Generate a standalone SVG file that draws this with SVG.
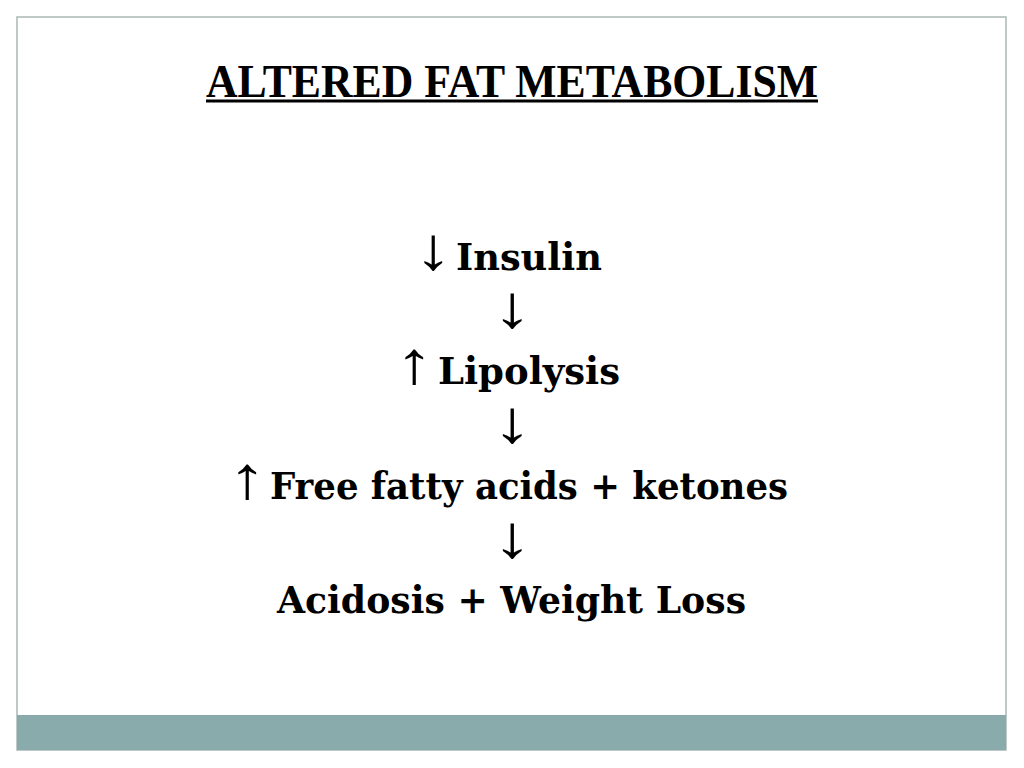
<svg xmlns="http://www.w3.org/2000/svg" width="1024" height="768" viewBox="0 0 1024 768">
<style>
.title{font-family:"Liberation Serif","Times New Roman",serif;font-weight:bold;font-size:46px;fill:#000}
.body{font-family:"DejaVu Serif",Georgia,serif;font-weight:bold;font-size:38px;fill:#000}
.arr{font-family:"Liberation Serif","Times New Roman",serif;font-weight:normal;font-size:60px;fill:#000}
</style>
<rect x="0" y="0" width="1024" height="768" fill="#ffffff"/>
<rect x="17" y="17" width="989" height="733" fill="#ffffff" stroke="#aab9b6" stroke-width="1.5"/>
<rect x="17" y="715" width="989" height="35" fill="#8aabab"/>
<g id="title">
<text class="title" x="206" y="97" textLength="612" lengthAdjust="spacingAndGlyphs">ALTERED FAT METABOLISM</text>
<rect x="206" y="99.5" width="612" height="3" fill="#000"/>
</g>
<g id="node-insulin">
<text class="arr" x="414" y="269" textLength="38" lengthAdjust="spacingAndGlyphs">↓</text>
<text class="body" x="456" y="270" textLength="146" lengthAdjust="spacingAndGlyphs">Insulin</text>
</g>
<g id="node-lipolysis">
<text class="arr" x="395" y="383" textLength="38" lengthAdjust="spacingAndGlyphs">↑</text>
<text class="body" x="438" y="384" textLength="182" lengthAdjust="spacingAndGlyphs">Lipolysis</text>
</g>
<g id="node-ffa">
<text class="arr" x="228" y="498" textLength="38" lengthAdjust="spacingAndGlyphs">↑</text>
<text class="body" x="270" y="499" textLength="518" lengthAdjust="spacingAndGlyphs">Free fatty acids + ketones</text>
</g>
<g id="node-acidosis">
<text class="body" x="277" y="613" textLength="469" lengthAdjust="spacingAndGlyphs">Acidosis + Weight Loss</text>
</g>
<g id="connectors">
<text class="arr" x="492" y="327" textLength="40" lengthAdjust="spacingAndGlyphs">↓</text>
<text class="arr" x="492" y="442" textLength="40" lengthAdjust="spacingAndGlyphs">↓</text>
<text class="arr" x="492" y="557" textLength="40" lengthAdjust="spacingAndGlyphs">↓</text>
</g>
</svg>
